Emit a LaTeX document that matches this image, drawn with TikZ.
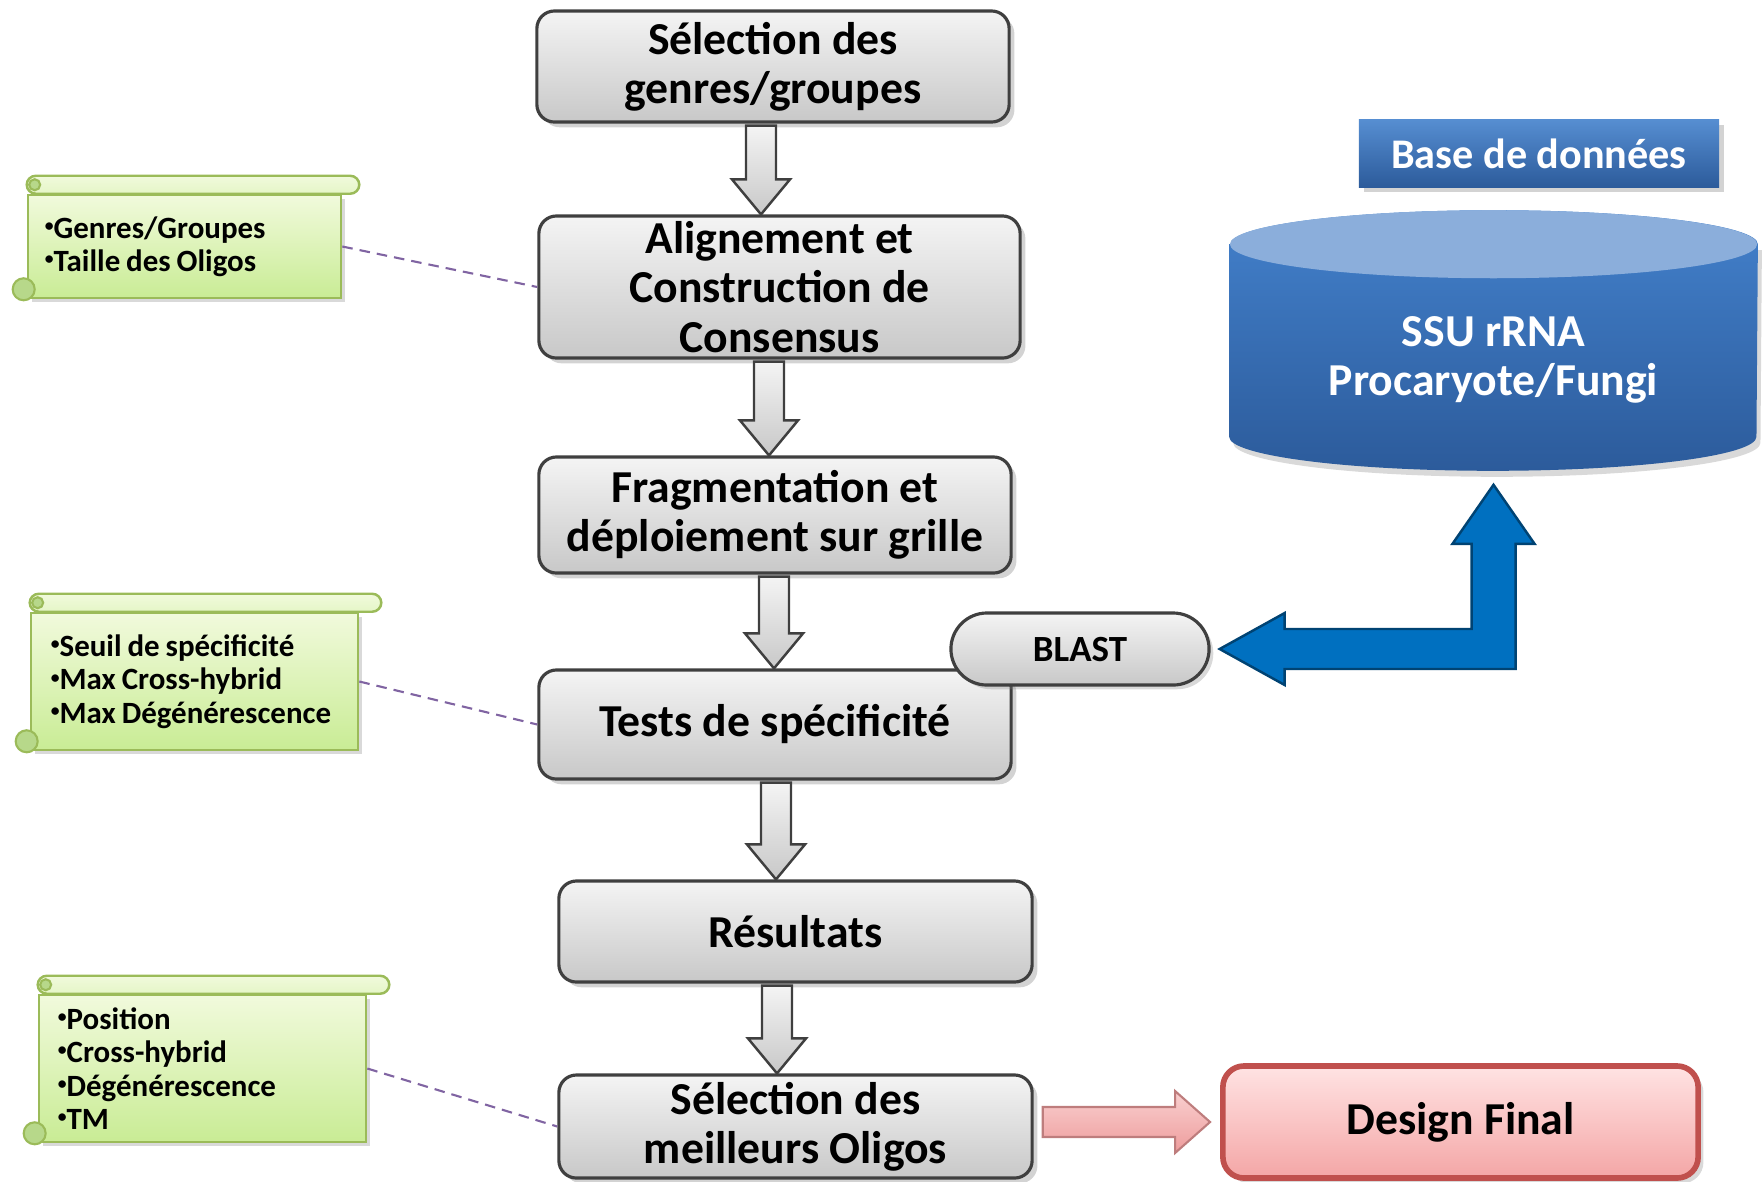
\documentclass[tikz,border=0pt]{standalone}
\usepackage{fontspec}
\setmainfont{Carlito}
\usetikzlibrary{positioning,calc,shadows}

\definecolor{boxline}{HTML}{3F3F3F}
\definecolor{boxtop}{HTML}{F4F4F4}
\definecolor{boxbot}{HTML}{C8C8C8}
\definecolor{noteline}{HTML}{9BBB59}
\definecolor{notetop}{HTML}{F1FADC}
\definecolor{notebot}{HTML}{C9EC95}
\definecolor{notecurl}{HTML}{B7D88A}
\definecolor{linkcol}{HTML}{8064A2}
\definecolor{dbtop}{HTML}{4381CC}
\definecolor{dbbot}{HTML}{2C5B9B}
\definecolor{dbcap}{HTML}{8BAEDB}
\definecolor{bluearr}{HTML}{0070C0}
\definecolor{finalline}{HTML}{C0504D}
\definecolor{finaltop}{HTML}{FFE3E3}
\definecolor{finalbot}{HTML}{F4A6A6}
\definecolor{pinktop}{HTML}{F9D0D0}
\definecolor{pinkbot}{HTML}{EE9C9C}

\newcommand\bul{\raisebox{0.45ex}{\fontsize{5}{5}\selectfont•}}

\begin{document}
\begin{tikzpicture}[
                        x=0.01cm, y=-0.01cm,
                        font=\bfseries\fontsize{13}{14}\selectfont,
                        block/.style={rectangle, draw=boxline, line width=0.9pt, rounded corners=5pt,
                                      top color=boxtop, bottom color=boxbot, align=center, inner sep=0pt,
                                      drop shadow={shadow xshift=1.5pt, shadow yshift=-1.5pt, opacity=0.35}},
                        note/.style={rectangle, draw=noteline, line width=0.7pt, top color=notetop,
                                     bottom color=notebot, align=left, inner ysep=0pt,
                                     font=\bfseries\fontsize{8.8}{9.5}\selectfont,
                                     execute at begin node={\spaceskip=0.19em\relax\hyphenpenalty=10000\relax},
                                     drop shadow={shadow xshift=1.2pt, shadow yshift=-1.2pt, opacity=0.3}},
                        link/.style={densely dashed, draw=linkcol, line width=0.6pt},
                        grayarr/.style={draw=boxline, line width=0.7pt, top color=boxtop, bottom color=boxbot},
                        pill/.style={rectangle, draw=boxline, line width=0.9pt, top color=boxtop, bottom color=boxbot,
                                     inner sep=0pt, font=\bfseries\fontsize{10.5}{12}\selectfont,
                                     drop shadow={shadow xshift=1.2pt, shadow yshift=-1.2pt, opacity=0.3}},
                        final/.style={rectangle, draw=finalline, line width=1.6pt, rounded corners=6pt,
                                      top color=finaltop, bottom color=finalbot, inner sep=0pt,
                                      drop shadow={shadow xshift=1.5pt, shadow yshift=-1.5pt, opacity=0.3}},
                        dbtitle/.style={rectangle, top color=dbtop!90!white, bottom color=dbbot, text=white,
                                        inner sep=0pt, font=\bfseries\fontsize{12}{14}\selectfont,
                                        drop shadow={shadow xshift=1.5pt, shadow yshift=-1.5pt, opacity=0.35}}
                    ]
                    \useasboundingbox (0,0) rectangle (1764,1181);

                    % Blocks
                    \node [block, minimum width=4.72cm, minimum height=1.11cm] (sel) at (773,66.5) {Sélection des\\genres/groupes};
                    \node [block, minimum width=4.81cm, minimum height=1.42cm] (align) at (779.5,287) {Alignement et\\Construction de\\Consensus};
                    \node [block, minimum width=4.72cm, minimum height=1.16cm] (frag) at (775,515) {Fragmentation et\\déploiement sur grille};
                    \node [block, minimum width=4.72cm, minimum height=1.09cm] (tests) at (775,724.5) {Tests de spécificité};
                    \node [block, minimum width=4.73cm, minimum height=1.01cm] (res) at (795.5,931.5) {Résultats};
                    \node [block, minimum width=4.73cm, minimum height=1.03cm] (best) at (795.5,1126.5) {Sélection des\\meilleurs Oligos};
                    \node [pill, minimum width=2.58cm, minimum height=0.72cm, rounded corners=0.36cm] (blast) at (1080,649) {BLAST};
                    \node [final, minimum width=4.75cm, minimum height=1.12cm] (design) at (1460.5,1122) {Design Final};

                    % Notes
                    \node [note, minimum width=3.13cm, minimum height=1.03cm, inner xsep=0.17cm, text width=2.79cm] (noteA) at (184.5,246.5) {\bul Genres/Groupes\\\bul Taille des Oligos};
                    \node [note, minimum width=3.27cm, minimum height=1.37cm, inner xsep=0.2cm, text width=2.87cm] (noteB) at (194.5,681.5) {\bul Seuil de spécificité\\\bul Max Cross-hybrid\\\bul Max Dégénérescence};
                    \node [note, minimum width=3.27cm, minimum height=1.47cm, inner xsep=0.19cm, text width=2.89cm] (noteC) at (202.5,1068.5) {\bul Position\\\bul Cross-hybrid\\\bul Dégénérescence\\\bul TM};
                    \foreach \n/\e in {noteA/17, noteB/22, noteC/22} {
                        \draw [draw=noteline, line width=0.7pt, top color=notetop, bottom color=notetop!70!notebot, rounded corners=2.6pt]
                            ($(\n.north west)+(0,-18)$) rectangle ($(\n.north east)+(\e,0)$);
                        \draw [draw=noteline, line width=0.6pt, fill=notecurl] ($(\n.north west)+(8,-9)$) circle [radius=0.055cm];
                        \draw [draw=noteline, line width=0.6pt, fill=notecurl] ($(\n.south west)+(-3,-10)$) circle [radius=0.11cm];
                    }

                    % Database
                    \node [dbtitle, minimum width=3.6cm, minimum height=0.67cm] (dbt) at (1539,153.5) {Base de données};
                    \node [minimum width=5.27cm, minimum height=2.59cm, inner sep=0pt] (db) at (1493.5,340.5) {};
                    \fill [black, opacity=0.15] ($(db.north west)+(4,40)$) -- ($(db.south west)+(4,-28)$)
                        arc [start angle=180, end angle=360, x radius=2.635cm, y radius=0.34cm]
                        -- ($(db.north east)+(4,40)$) -- cycle;
                    \path [top color=dbtop, bottom color=dbbot] ($(db.north west)+(0,34)$) -- ($(db.south west)+(0,-34)$)
                        arc [start angle=180, end angle=360, x radius=2.635cm, y radius=0.34cm]
                        -- ($(db.north east)+(0,34)$)
                        arc [start angle=0, end angle=180, x radius=2.635cm, y radius=0.34cm] -- cycle;
                    \fill [dbcap] ($(db.north)+(0,34)$) ellipse [x radius=2.635cm, y radius=0.34cm];
                    \node [text=white, align=center, font=\bfseries\fontsize{13}{14}\selectfont] (dblabel) at ($(db.center)+(0,19)$) {SSU rRNA\\Procaryote/Fungi};

                    % Connections
                    \foreach \a/\b/\x in {sel/align/761, align/frag/769, frag/tests/774, tests/res/776, res/best/777}
                        \draw [grayarr] ($(\x,0 |- \a.south)+(-15,2)$) -- ($(\x,0 |- \b.north)+(-15,-35)$) -- ++(-14,0)
                            -- (\x,0 |- \b.north) -- ($(\x,0 |- \b.north)+(29,-35)$) -- ++(-14,0)
                            -- ($(\x,0 |- \a.south)+(15,2)$) -- cycle;
                    \draw [link] (noteA.east) -- (align.west);
                    \draw [link] (noteB.east) -- (tests.west);
                    \draw [link] (noteC.east) -- (best.west);

                    \coordinate (bt) at ($(blast.east)+(9,0)$);
                    \coordinate (dt) at ($(db.south)+(0,14)$);
                    \coordinate (corner) at (dt |- bt);
                    \draw [fill=bluearr, draw=bluearr!60!black, line width=0.7pt]
                        (bt) -- ++(65,-36) -- ++(0,16) -- ($(corner)+(-22,-20)$) -- ($(dt)+(-22,59)$) -- ++(-19,0)
                        -- (dt) -- ($(dt)+(41,59)$) -- ++(-19,0) -- ($(corner)+(22,20)$) -- ($(bt)+(65,20)$)
                        -- ++(0,16) -- cycle;

                    \coordinate (ps) at ($(best.east |- design.west)+(9,0)$);
                    \coordinate (pt) at ($(design.west)+(-10,0)$);
                    \draw [draw=pinkbot!80!black, line width=0.6pt, top color=pinktop, bottom color=pinkbot]
                        ($(ps)+(0,-15)$) -- ($(pt)+(-35,-15)$) -- ($(pt)+(-35,-31)$) -- (pt)
                        -- ($(pt)+(-35,31)$) -- ($(pt)+(-35,15)$) -- ($(ps)+(0,15)$) -- cycle;
                \end{tikzpicture}
\end{document}
